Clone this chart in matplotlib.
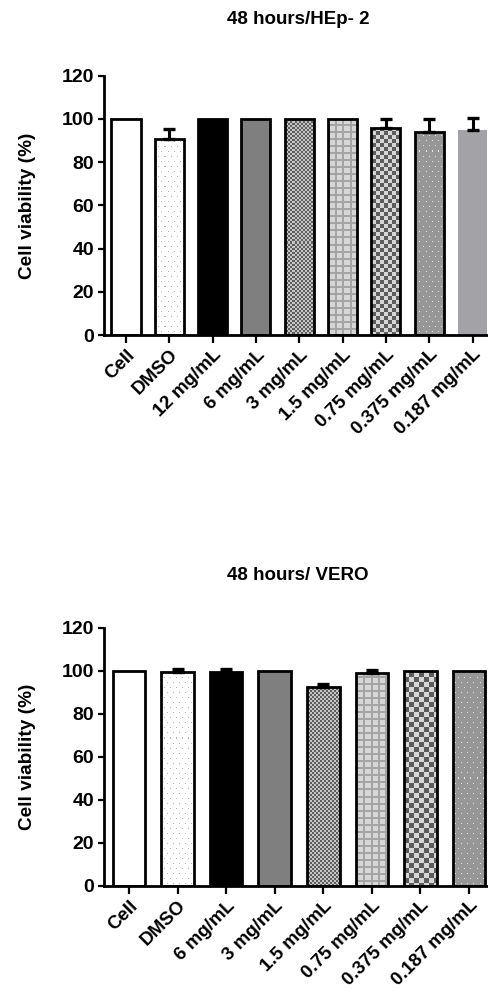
import numpy as np
import matplotlib
matplotlib.use("Agg")
import matplotlib.pyplot as plt
from matplotlib.patches import Rectangle

plt.rcParams['font.family'] = ['Liberation Sans', 'DejaVu Sans']
plt.rcParams['font.weight'] = 'bold'

# ---------------- data ----------------
top_title = "48 hours/HEp- 2"
top_labels = ["Cell", "DMSO", "12 mg/mL", "6 mg/mL", "3 mg/mL", "1.5 mg/mL",
              "0.75 mg/mL", "0.375 mg/mL", "0.187 mg/mL"]
top_means = [100, 90.6, 100, 100, 100, 100, 96.0, 93.8, 94.8]
top_err = [0, 4.6, 0, 0, 0, 0, 4.0, 6.0, 5.8]
top_styles = ["white", "dots_light", "black", "gray", "fine_checker", "grid",
              "coarse_checker", "gray_dots", "plain_light"]

bot_title = "48 hours/ VERO"
bot_labels = ["Cell", "DMSO", "6 mg/mL", "3 mg/mL", "1.5 mg/mL",
              "0.75 mg/mL", "0.375 mg/mL", "0.187 mg/mL"]
bot_means = [100, 99.2, 99.2, 100, 92.4, 99.0, 100, 100]
bot_err = [0, 1.4, 1.5, 0, 1.4, 1.2, 0, 0]
bot_styles = ["white", "dots_light", "black", "gray", "fine_checker", "grid",
              "coarse_checker", "gray_dots"]

yticks = [0, 20, 40, 60, 80, 100, 120]

# ---------------- textures ----------------
def rgb(h):
    h = h.lstrip('#')
    return np.array([int(h[i:i + 2], 16) for i in (0, 2, 4)]) / 255.0


def texture(kind, h, w, checker_big):
    yy, xx = np.indices((h, w))
    if kind == "fine_checker":
        m = ((yy // 2 + xx // 2) % 2) == 0
        c1, c2 = rgb('#5e5e5e'), rgb('#c4c4c4')
    elif kind == "coarse_checker":
        s = checker_big
        m = ((yy // s + xx // s) % 2) == 0
        c1, c2 = rgb('#5c5c5c'), rgb('#d6d6d6')
    elif kind == "grid":
        p = 7
        m = ((xx % p) < 2) | ((yy % p) < 2)
        c1, c2 = rgb('#a4a4a4'), rgb('#d6d6d6')
    elif kind == "dots_light":
        off = ((yy // 5) % 2) * 3
        m = ((yy % 5) == 0) & (((xx + off) % 6) == 0)
        c1, c2 = rgb('#b5b5b5'), rgb('#ffffff')
    elif kind == "gray_dots":
        off = ((yy // 5) % 2) * 3
        m = ((yy % 5) == 0) & (((xx + off) % 6) == 0)
        c1, c2 = rgb('#e4e4e4'), rgb('#979797')
    else:
        return None
    return np.where(m[..., None], c1, c2)


solid = {"white": "#ffffff", "black": "#000000", "gray": "#7f7f7f",
         "plain_light": "#a3a3a7"}

fig = plt.figure(figsize=(4.89, 9.98), dpi=100)
FW, FH = 489, 998


def draw_panel(pos, labels, means, errs, styles, title, title_y, xlim, big):
    ax = fig.add_axes(pos)
    x = np.arange(len(labels))
    wpx = int(round(pos[2] * FW))
    hpx = int(round(pos[3] * FH))
    bars = ax.bar(x, means, width=0.67, color='white', edgecolor='none', zorder=2)
    for rect, st in zip(bars, styles):
        if st in solid:
            rect.set_facecolor(solid[st])
        else:
            tex = texture(st, hpx, wpx, big)
            im = ax.imshow(tex, extent=(xlim[0], xlim[1], 0, 120), aspect='auto',
                           interpolation='nearest', zorder=2.5, origin='upper')
            im.set_clip_path(rect)
        if st != "plain_light":
            outline = Rectangle((rect.get_x(), rect.get_y()), rect.get_width(),
                                rect.get_height(), facecolor='none',
                                edgecolor='black', linewidth=2.0, zorder=3)
            ax.add_patch(outline)
    mk = [i for i, e in enumerate(errs) if e > 0]
    ax.errorbar([x[i] for i in mk], [means[i] for i in mk],
                yerr=[[0] * len(mk), [errs[i] for i in mk]], fmt='none',
                ecolor='black', elinewidth=2.2, capsize=4.5, capthick=2.4, zorder=4)
    ax.set_xlim(*xlim)
    ax.set_ylim(0, 120)
    ax.set_yticks(yticks)
    ax.set_xticks(x)
    ax.set_xticklabels(labels, rotation=45, ha='right', va='top',
                       rotation_mode='anchor', fontsize=13.5, fontweight='bold')
    for t in ax.get_yticklabels():
        t.set_fontweight('bold')
    ax.tick_params(axis='y', labelsize=14, length=4, width=1.6, pad=3.0)
    ax.tick_params(axis='x', length=5.5, width=1.6, pad=2.5)
    for s in ['top', 'right']:
        ax.spines[s].set_visible(False)
    for s in ['left', 'bottom']:
        ax.spines[s].set_linewidth(2.0)
    ax.set_ylabel("Cell viability (%)", fontsize=13.7, fontweight='bold')
    ax.yaxis.set_label_coords(-0.176, 0.5)
    fig.text(298 / FW, 1 - title_y / FH, title, ha='center', va='center',
             fontsize=13.5, fontweight='bold')
    return ax


draw_panel([104 / FW, 1 - 335 / FH, 1 - 104 / FW, (335 - 75.7) / FH],
           top_labels, top_means, top_err, top_styles, top_title, 20,
           (-0.508, 8.38), 4)
draw_panel([104 / FW, 1 - 886 / FH, 1 - 104 / FW, (886 - 627.7) / FH],
           bot_labels, bot_means, bot_err, bot_styles, bot_title, 575.5,
           (-0.514, 7.41), 5)

fig.savefig("out.png", dpi=100)
